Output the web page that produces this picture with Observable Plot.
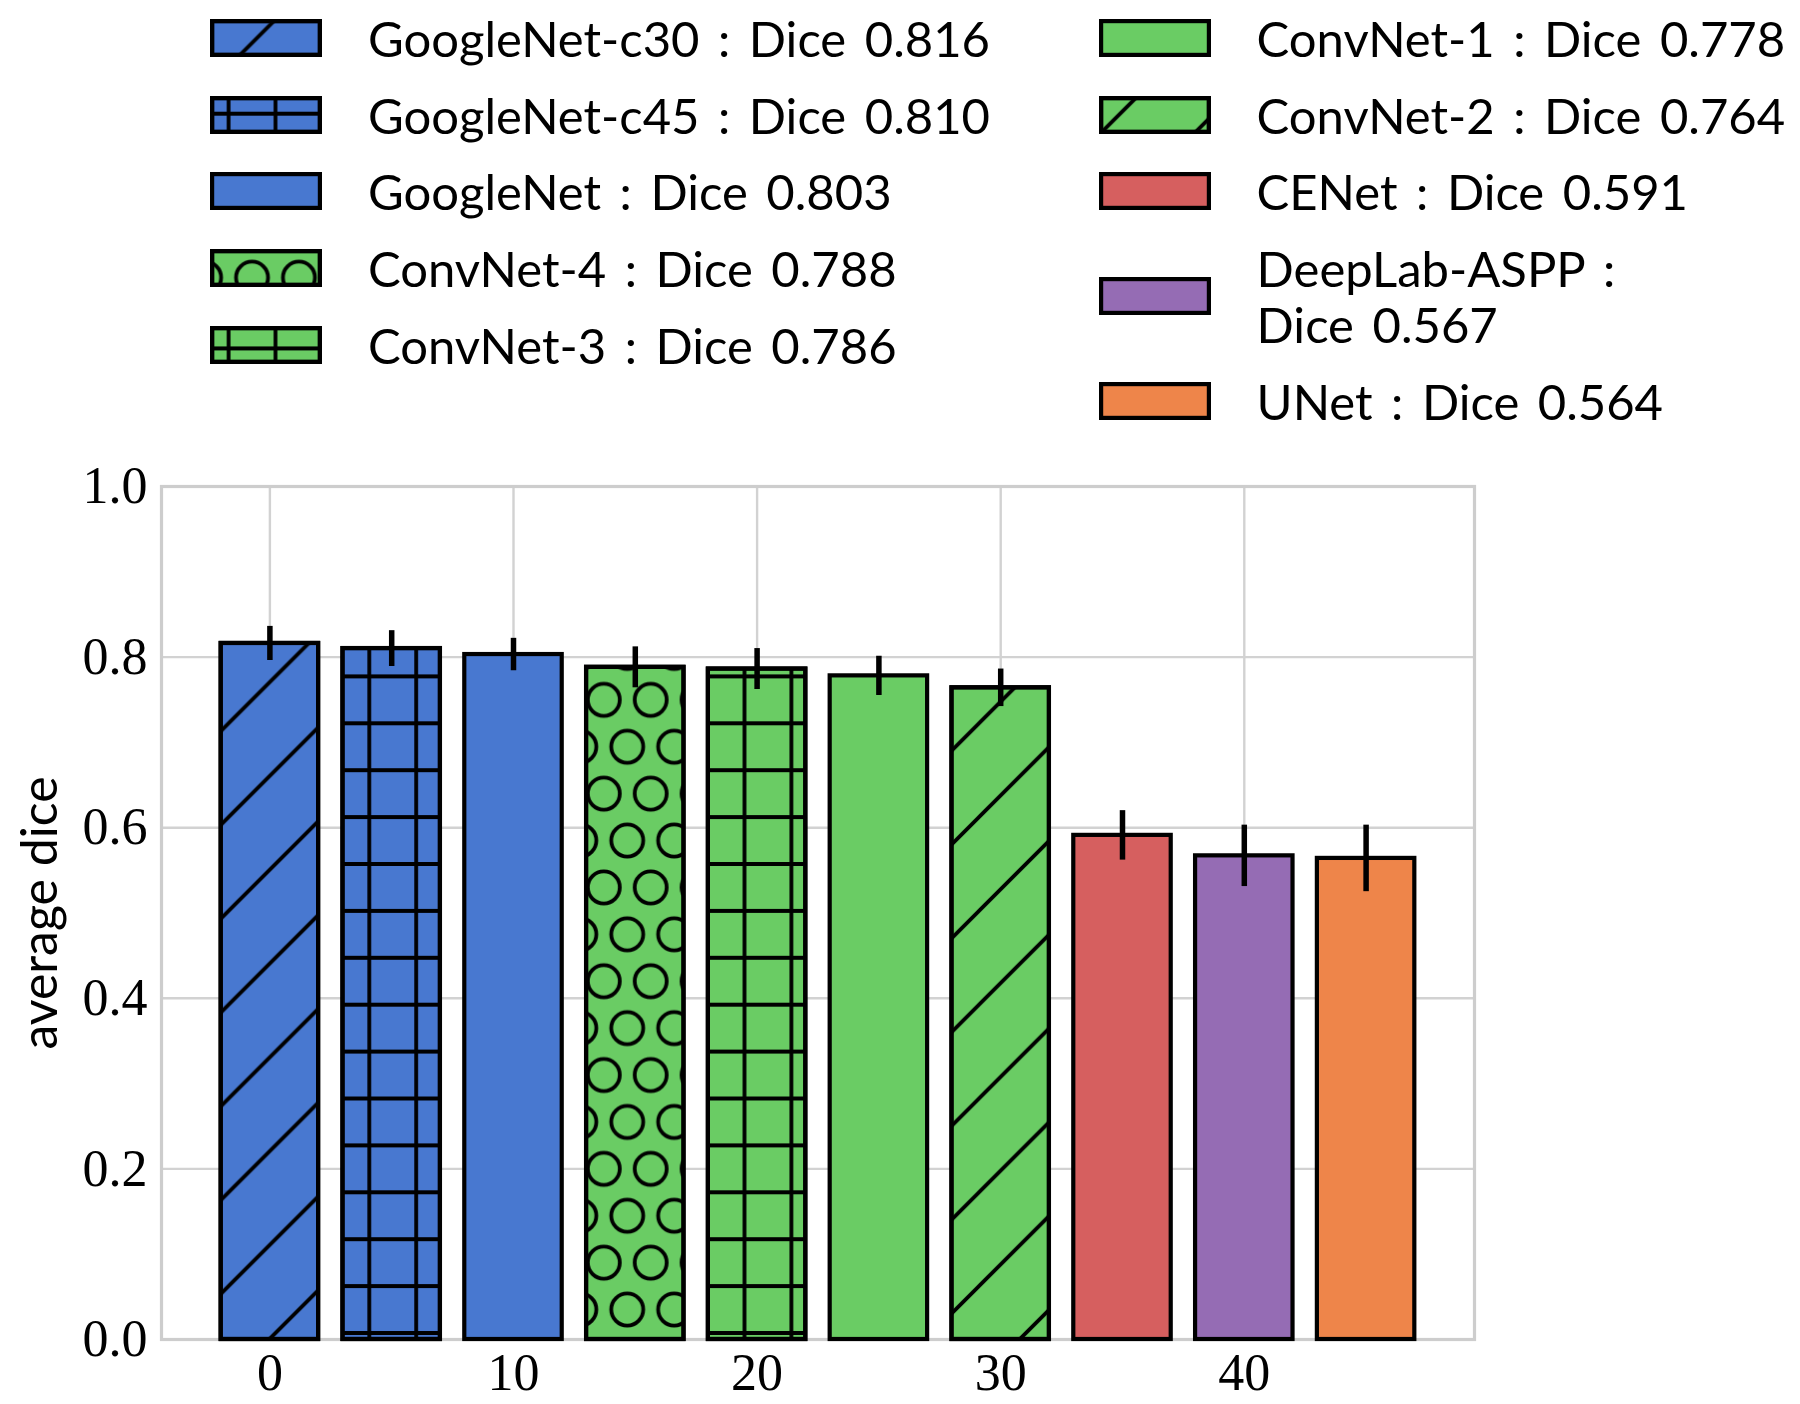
<!DOCTYPE html>
<html>
<head>
<meta charset="utf-8">
<script src="https://cdn.jsdelivr.net/npm/d3@7"></script>
<script src="https://cdn.jsdelivr.net/npm/@observablehq/plot@0.6"></script>
<style>
  html, body { margin: 0; padding: 0; background: #fff; }
  body { width: 1800px; height: 1404px; position: relative; overflow: hidden; }
  .legend-col { position: absolute; top: 0; display: flex; flex-direction: column; }
  .legend-item { display: flex; align-items: center; height: 76.6px; }
  .legend-item.tall { height: 132.6px; }
  .legend-item svg { flex: none; display: block; }
  .legend-text { margin-left: 46px; font-family: Lato, "Noto Sans", sans-serif; font-size: 49px; line-height: 56px; word-spacing: 6px; color: #000; white-space: pre; }
  #chart { position: absolute; left: 0; top: 440px; }
</style>
</head>
<body>
<div id="legend-left" class="legend-col" style="left:210px; width:880px"></div>
<div id="legend-right" class="legend-col" style="left:1098.6px; width:700px"></div>
<div id="chart"></div>
<script>
// ---------- data ----------
const models   = ["GoogleNet-c30", "GoogleNet-c45", "GoogleNet", "ConvNet-4", "ConvNet-3",
                  "ConvNet-1", "ConvNet-2", "CENet", "DeepLab-ASPP", "UNet"];
const families = ["GoogleNet", "GoogleNet", "GoogleNet", "ConvNet", "ConvNet",
                  "ConvNet", "ConvNet", "CENet", "DeepLab", "UNet"];
const dice     = [0.816, 0.810, 0.803, 0.788, 0.786, 0.778, 0.764, 0.591, 0.567, 0.564];
const diceErr  = [0.020, 0.021, 0.019, 0.024, 0.024, 0.023, 0.022, 0.029, 0.036, 0.039];
const xPos     = [0, 5, 10, 15, 20, 25, 30, 35, 40, 45];
const xTicks   = [0, 10, 20, 30, 40];
const yTicks   = [0.0, 0.2, 0.4, 0.6, 0.8, 1.0];
const yLabel   = "average dice";

// ---------- styles ----------
const familyColors = {GoogleNet: "#4878d0", ConvNet: "#6acc64", CENet: "#d65f5f", DeepLab: "#956cb4", UNet: "#ee854a"};
const hatchOf = {"GoogleNet-c30": "diag", "GoogleNet-c45": "grid", "ConvNet-4": "circles", "ConvNet-3": "grid", "ConvNet-2": "diag"};
const P = 46.9;                    // hatch cell (px)
const hatchOrigin = [41.0, 66.7];  // hatch lattice anchor in page coords
const hatchW = 3.8, edgeW = 4.2;
const serif = "'Liberation Serif', 'DejaVu Serif', serif";
const sans = "Lato, 'Noto Sans', sans-serif";
const legendTextMax = 540;         // wrap a legend label wider than this (right column)

function patternMarkup(ox, oy, prefix) {
  const x0 = hatchOrigin[0] - ox, y0 = hatchOrigin[1] - oy, Q = 2 * P, r = 16;
  const st = `stroke="#000" stroke-width="${hatchW}" fill="none"`;
  return `
  <pattern id="${prefix}grid" patternUnits="userSpaceOnUse" x="${x0}" y="${y0}" width="${P}" height="${P}">
    <path d="M0,-3V${P + 3}M${P},-3V${P + 3}M-3,0H${P + 3}M-3,${P}H${P + 3}" ${st}/>
  </pattern>
  <pattern id="${prefix}diag" patternUnits="userSpaceOnUse" x="${x0}" y="${y0}" width="${Q}" height="${Q}">
    <path d="M-6,${Q + 6}L${Q + 6},-6M-6,6L6,-6M${Q - 6},${Q + 6}L${Q + 6},${Q - 6}" ${st}/>
  </pattern>
  <pattern id="${prefix}circles" patternUnits="userSpaceOnUse" x="${x0}" y="${y0}" width="${P}" height="${Q}">
    <circle cx="${P / 2}" cy="${P / 2}" r="${r}" ${st}/>
    <circle cx="0" cy="${1.5 * P}" r="${r}" ${st}/>
    <circle cx="${P}" cy="${1.5 * P}" r="${r}" ${st}/>
  </pattern>`;
}
function addDefs(svg, markup) {
  const doc = new DOMParser().parseFromString(
    `<svg xmlns="http://www.w3.org/2000/svg"><defs>${markup}</defs></svg>`, "image/svg+xml");
  svg.insertBefore(document.importNode(doc.documentElement.firstChild, true), svg.firstChild);
}

// ---------- chart ----------
const rows = models.map((m, i) => ({model: m, family: families[i], x: xPos[i], dice: dice[i], err: diceErr[i]}));
const half = 2; // bar half-width in x units
const barOpts = {x1: d => d.x - half, x2: d => d.x + half, y: "dice"};
const hatchMarks = ["diag", "grid", "circles"].map(h =>
  Plot.rectY(rows.filter(d => hatchOf[d.model] === h),
    {...barOpts, fill: `url(#p-${h})`, stroke: "#000", strokeWidth: edgeW}));

const chart = Plot.plot({
  width: 1800, height: 964,
  marginTop: 46, marginBottom: 65, marginLeft: 161, marginRight: 326,
  x: {domain: [-4.45, 49.45]},
  y: {domain: [0, 1]},
  color: {domain: Object.keys(familyColors), range: Object.values(familyColors)},
  style: {background: "#fff", color: "#000", overflow: "visible"},
  marks: [
    Plot.gridX(xTicks, {stroke: "#d2d2d2", strokeOpacity: 1, strokeWidth: 2.4}),
    Plot.gridY(yTicks, {stroke: "#d2d2d2", strokeOpacity: 1, strokeWidth: 2.4}),
    Plot.frame({stroke: "#cdcdcd", strokeWidth: 3.2}),
    Plot.rectY(rows, {...barOpts, fill: "family", stroke: "#000", strokeWidth: edgeW}),
    ...hatchMarks,
    Plot.ruleX(rows, {x: "x", y1: d => d.dice - d.err, y2: d => d.dice + d.err, stroke: "#000", strokeWidth: 5.5}),
    Plot.axisY(yTicks, {tickSize: 0, tickPadding: 14, tickFormat: d3.format(".1f"), fontSize: 52, fontFamily: serif, label: null}),
    Plot.axisX(xTicks, {tickSize: 0, tickPadding: 14, tickFormat: d3.format("d"), fontSize: 52, fontFamily: serif, label: null}),
    Plot.text([yLabel], {frameAnchor: "left", textAnchor: "middle", rotate: -90, dx: -121, fontSize: 50, fontFamily: sans, fill: "#000"})
  ]
});
addDefs(chart, patternMarkup(0, 440, "p-"));
document.getElementById("chart").appendChild(chart);

// ---------- legend ----------
const NS = "http://www.w3.org/2000/svg";
const swatches = [];
models.forEach((m, i) => {
  const col = document.getElementById(i < 5 ? "legend-left" : "legend-right");
  const item = document.createElement("div");
  item.className = "legend-item";
  const svg = document.createElementNS(NS, "svg");
  svg.setAttribute("width", 112); svg.setAttribute("height", 38);
  item.appendChild(svg);
  const txt = document.createElement("div");
  txt.className = "legend-text";
  txt.textContent = `${m} : Dice ${dice[i].toFixed(3)}`;
  item.appendChild(txt);
  col.appendChild(item);
  if (i >= 5 && txt.getBoundingClientRect().width > legendTextMax) {
    txt.textContent = `${m} :\nDice ${dice[i].toFixed(3)}`;
    item.classList.add("tall");
  }
  swatches.push({svg, i, m});
});
swatches.forEach(({svg, i, m}, k) => {
  const b = svg.getBoundingClientRect();
  const prefix = `s${k}-`;
  addDefs(svg, patternMarkup(b.left, b.top, prefix));
  const w = edgeW / 2;
  const base = document.createElementNS(NS, "rect");
  base.setAttribute("x", w); base.setAttribute("y", w);
  base.setAttribute("width", 112 - edgeW); base.setAttribute("height", 38 - edgeW);
  base.setAttribute("fill", familyColors[families[i]]);
  base.setAttribute("stroke", "#000"); base.setAttribute("stroke-width", edgeW);
  svg.appendChild(base);
  if (hatchOf[m]) {
    const h = base.cloneNode();
    h.setAttribute("fill", `url(#${prefix}${hatchOf[m]})`);
    svg.appendChild(h);
  }
});
</script>
</body>
</html>
